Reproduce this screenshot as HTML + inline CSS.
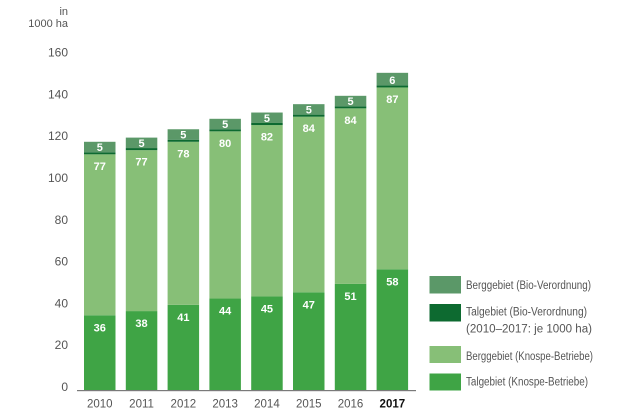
<!DOCTYPE html>
<html><head><meta charset="utf-8"><style>
html,body{margin:0;padding:0;background:#fff;}
svg{display:block;}
text{font-family:"Liberation Sans",sans-serif;}
</style></head><body>
<svg width="620" height="420" viewBox="0 0 620 420" xmlns="http://www.w3.org/2000/svg">
<rect width="620" height="420" fill="#fff"/>
<g fill="#555" font-size="12" text-anchor="end">
<text x="68" y="15" font-size="11">in</text>
<text x="68" y="27" font-size="11">1000 ha</text>
<text x="68" y="391">0</text>
<text x="68" y="349.2">20</text>
<text x="68" y="307.4">40</text>
<text x="68" y="265.6">60</text>
<text x="68" y="223.8">80</text>
<text x="68" y="182">100</text>
<text x="68" y="140.2">120</text>
<text x="68" y="98.4">140</text>
<text x="68" y="56.6">160</text>
</g>
<g transform="translate(0,390.5) scale(1,-2.09)">
<g fill="#3fa445">
<rect x="84" y="0" width="31.5" height="36"/>
<rect x="125.8" y="0" width="31.5" height="38"/>
<rect x="167.6" y="0" width="31.5" height="41"/>
<rect x="209.4" y="0" width="31.5" height="44"/>
<rect x="251.2" y="0" width="31.5" height="45"/>
<rect x="293" y="0" width="31.5" height="47"/>
<rect x="334.8" y="0" width="31.5" height="51"/>
<rect x="376.6" y="0" width="31.5" height="58"/>
</g>
<g fill="#87bf77">
<rect x="84" y="36" width="31.5" height="77"/>
<rect x="125.8" y="38" width="31.5" height="77"/>
<rect x="167.6" y="41" width="31.5" height="78"/>
<rect x="209.4" y="44" width="31.5" height="80"/>
<rect x="251.2" y="45" width="31.5" height="82"/>
<rect x="293" y="47" width="31.5" height="84"/>
<rect x="334.8" y="51" width="31.5" height="84"/>
<rect x="376.6" y="58" width="31.5" height="87"/>
</g>
<g fill="#0d6a30">
<rect x="84" y="113" width="31.5" height="1"/>
<rect x="125.8" y="115" width="31.5" height="1"/>
<rect x="167.6" y="119" width="31.5" height="1"/>
<rect x="209.4" y="124" width="31.5" height="1"/>
<rect x="251.2" y="127" width="31.5" height="1"/>
<rect x="293" y="131" width="31.5" height="1"/>
<rect x="334.8" y="135" width="31.5" height="1"/>
<rect x="376.6" y="145" width="31.5" height="1"/>
</g>
<g fill="#5b9868">
<rect x="84" y="114" width="31.5" height="5"/>
<rect x="125.8" y="116" width="31.5" height="5"/>
<rect x="167.6" y="120" width="31.5" height="5"/>
<rect x="209.4" y="125" width="31.5" height="5"/>
<rect x="251.2" y="128" width="31.5" height="5"/>
<rect x="293" y="132" width="31.5" height="5"/>
<rect x="334.8" y="136" width="31.5" height="5"/>
<rect x="376.6" y="146" width="31.5" height="6"/>
</g>
</g>
<rect x="77" y="390" width="339" height="1.2" fill="#7a7a7a"/>
<g fill="#fff" font-size="11" font-weight="bold" text-anchor="middle">
<text x="99.75" y="331.3">36</text>
<text x="141.55" y="327.1">38</text>
<text x="183.35" y="320.8">41</text>
<text x="225.15" y="314.5">44</text>
<text x="266.95" y="312.5">45</text>
<text x="308.75" y="308.3">47</text>
<text x="350.55" y="299.9">51</text>
<text x="392.35" y="285.3">58</text>
<text x="99.75" y="169.8">77</text>
<text x="141.55" y="165.7">77</text>
<text x="183.35" y="157.3">78</text>
<text x="225.15" y="146.8">80</text>
<text x="266.95" y="140.6">82</text>
<text x="308.75" y="132.2">84</text>
<text x="350.55" y="123.9">84</text>
<text x="392.35" y="103.2">87</text>
<text x="99.75" y="151">5</text>
<text x="141.55" y="146.8">5</text>
<text x="183.35" y="138.5">5</text>
<text x="225.15" y="128">5</text>
<text x="266.95" y="121.8">5</text>
<text x="308.75" y="113.4">5</text>
<text x="350.55" y="105">5</text>
<text x="392.35" y="84">6</text>
</g>
<g fill="#555" font-size="11.5" text-anchor="middle">
<text x="99.75" y="407.5">2010</text>
<text x="141.55" y="407.5">2011</text>
<text x="183.35" y="407.5">2012</text>
<text x="225.15" y="407.5">2013</text>
<text x="266.95" y="407.5">2014</text>
<text x="308.75" y="407.5">2015</text>
<text x="350.55" y="407.5">2016</text>
<text x="392.35" y="407.5" font-weight="bold" fill="#111">2017</text>
</g>
<rect x="429.5" y="276" width="31.5" height="17.5" fill="#5b9868"/>
<rect x="429.5" y="304" width="31.5" height="17.5" fill="#0d6a30"/>
<rect x="429.5" y="346" width="31.5" height="17" fill="#87bf77"/>
<rect x="429.5" y="373.5" width="31.5" height="17" fill="#3fa445"/>
<g fill="#555" font-size="11.5">
<text x="466" y="289" textLength="125" lengthAdjust="spacingAndGlyphs">Berggebiet (Bio-Verordnung)</text>
<text x="466" y="315.6" textLength="121" lengthAdjust="spacingAndGlyphs">Talgebiet (Bio-Verordnung)</text>
<text x="466" y="332.3" textLength="126" lengthAdjust="spacingAndGlyphs">(2010–2017: je 1000 ha)</text>
<text x="466" y="359.9" textLength="127" lengthAdjust="spacingAndGlyphs">Berggebiet (Knospe-Betriebe)</text>
<text x="466" y="385.6" textLength="122" lengthAdjust="spacingAndGlyphs">Talgebiet (Knospe-Betriebe)</text>
</g>
</svg>
</body></html>
